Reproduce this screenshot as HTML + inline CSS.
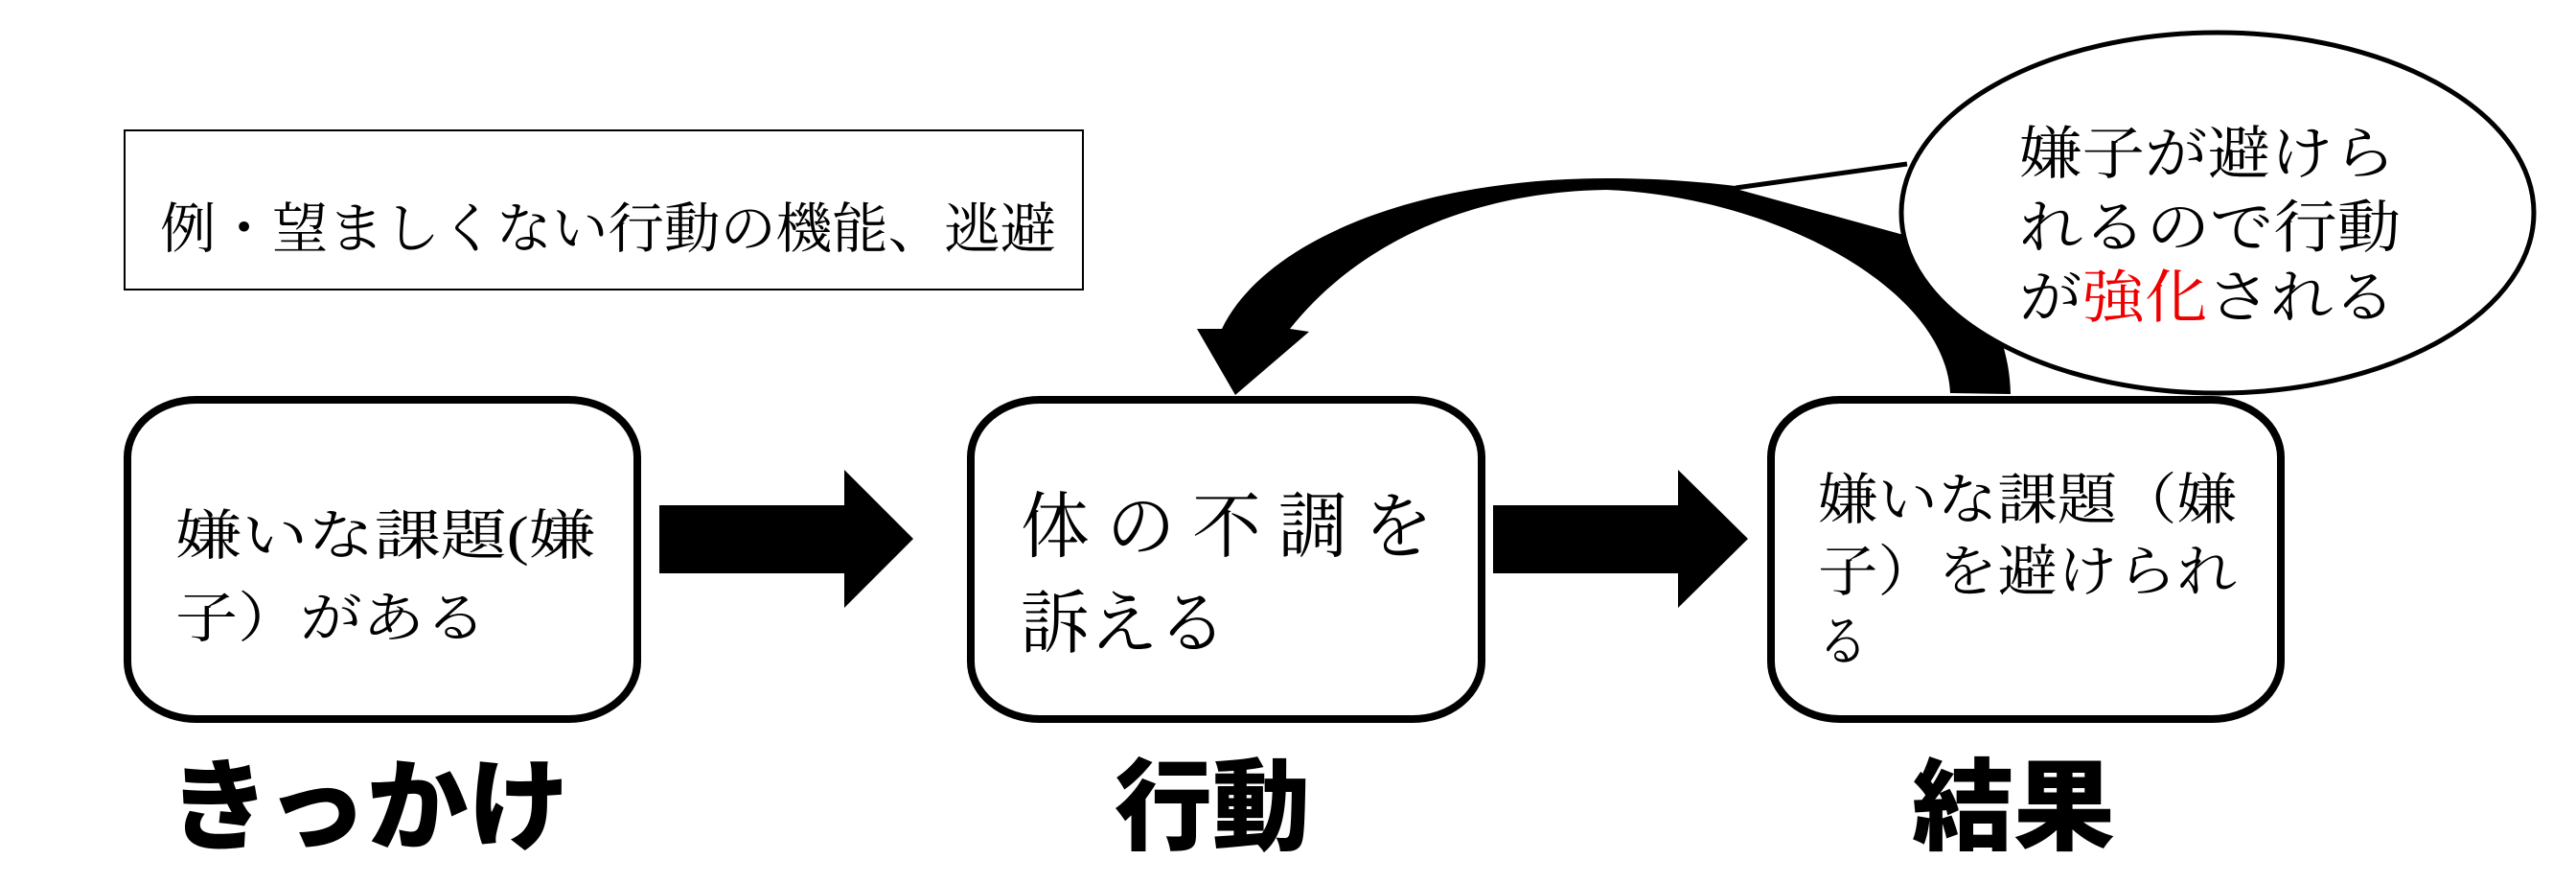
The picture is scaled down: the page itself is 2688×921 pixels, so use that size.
<!DOCTYPE html>
<html><head><meta charset="utf-8"><style>html,body{margin:0;padding:0;background:#fff}svg{display:block}</style></head>
<body>
<svg width="2688" height="921" viewBox="0 0 2688 921" xmlns="http://www.w3.org/2000/svg">
<rect width="2688" height="921" fill="#fff"/>
<g font-family="'Liberation Serif','Noto Serif CJK JP',serif" fill="#000">
<rect x="130" y="136" width="1000" height="166" fill="#fff" stroke="#000" stroke-width="2"/>
<text x="167" y="258" font-size="57" textLength="935" lengthAdjust="spacingAndGlyphs">例・望ましくない行動の機能、逃避</text>

<rect x="133" y="417" width="532" height="333" rx="72" ry="60" fill="#fff" stroke="#000" stroke-width="8"/>
<text x="183" y="578" font-size="57" textLength="438" lengthAdjust="spacingAndGlyphs">嫌いな課題(嫌</text>
<text x="183" y="664" font-size="57" textLength="325" lengthAdjust="spacingAndGlyphs">子）がある</text>

<rect x="1013" y="417" width="533" height="333" rx="72" ry="60" fill="#fff" stroke="#000" stroke-width="8"/>
<text x="1065" y="575" font-size="75" textLength="430" lengthAdjust="spacingAndGlyphs">体 の 不 調 を</text>
<text x="1065" y="675" font-size="72" textLength="215" lengthAdjust="spacingAndGlyphs">訴える</text>

<rect x="1848" y="417" width="532" height="333" rx="72" ry="60" fill="#fff" stroke="#000" stroke-width="8"/>
<text x="1897" y="541" font-size="58" textLength="437" lengthAdjust="spacingAndGlyphs">嫌いな課題（嫌</text>
<text x="1897" y="616" font-size="58" textLength="437" lengthAdjust="spacingAndGlyphs">子）を避けられ</text>
<text x="1897" y="689" font-size="58" textLength="52" lengthAdjust="spacingAndGlyphs">る</text>

<polygon points="688,527 881,527 881,490 953,562 881,634 881,598 688,598"/>
<polygon points="1558,527 1751,527 1751,490 1824,562 1751,634 1751,598 1558,598"/>

<path d="M2098,411 C2096,330 2050,280 1990,246 L1815,198 L1811,194 C1760,188 1720,186 1676,186 C1480,186 1320,250 1275,343 L1249,343 L1289,412 L1366,346 L1346,343 C1420,250 1540,200 1676,198 C1850,205 2030,300 2035,410 Z"/>
<ellipse cx="2314" cy="222" rx="330" ry="188" fill="#fff" stroke="#000" stroke-width="5"/>
<polyline points="1990,171 1811,196" fill="none" stroke="#000" stroke-width="5"/>
<text x="2107" y="181" font-size="60" textLength="393" lengthAdjust="spacingAndGlyphs">嫌子が避けら</text>
<text x="2107" y="258" font-size="60" textLength="398" lengthAdjust="spacingAndGlyphs">れるので行動</text>
<text x="2107" y="331" font-size="60" textLength="393" lengthAdjust="spacingAndGlyphs">が<tspan fill="#e00">強化</tspan>される</text>
</g>
<g font-family="'Liberation Sans','Noto Sans CJK JP',sans-serif" font-weight="900" fill="#000">
<text x="176" y="878" font-size="104" textLength="418" lengthAdjust="spacingAndGlyphs">きっかけ</text>
<text x="1163" y="878" font-size="104" textLength="204" lengthAdjust="spacingAndGlyphs">行動</text>
<text x="1995" y="878" font-size="104" textLength="212" lengthAdjust="spacingAndGlyphs">結果</text>
</g>
</svg>
</body></html>
